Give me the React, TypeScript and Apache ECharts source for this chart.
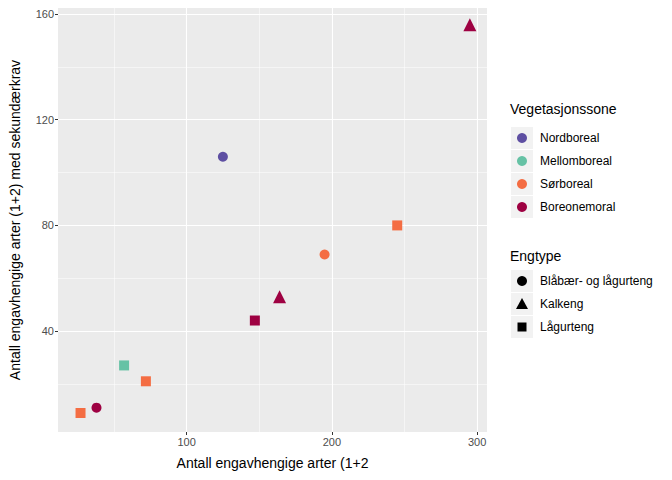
import React, { useEffect, useRef } from "react";
import * as echarts from "echarts";

const zones = ["Nordboreal", "Mellomboreal", "Sørboreal", "Boreonemoral"];
const zoneColors = ["#5E4FA2", "#66C2A5", "#F46D43", "#9E0142"];
const types = ["Blåbær- og lågurteng", "Kalkeng", "Lågurteng"];
const typeSymbols = ["circle", "triangle", "rect"];
// [x, y, zoneIndex, typeIndex]
const points: number[][] = [
  [125, 106, 0, 0],
  [57, 27, 1, 2],
  [245, 80, 2, 2],
  [195, 69, 2, 0],
  [72, 21, 2, 2],
  [27, 9, 2, 2],
  [295, 156, 3, 1],
  [164, 53, 3, 1],
  [147, 44, 3, 2],
  [38, 11, 3, 0],
];
const xTicks = [100, 200, 300];
const yTicks = [40, 80, 120, 160];
const xMinor = [50, 150, 250];
const yMinor = [20, 60, 100, 140];

export default function App() {
  const ref = useRef<HTMLDivElement>(null);
  useEffect(() => {
    document.body.style.margin = "0";
    const chart = echarts.init(ref.current!, null, { renderer: "svg" });
    const font = "Liberation Sans, Arial, sans-serif";
    const series: any[] = [];
    zones.forEach((z, zi) =>
      types.forEach((t, ti) => {
        const d = points.filter((p) => p[2] === zi && p[3] === ti).map((p) => [p[0], p[1]]);
        if (!d.length) return;
        series.push({
          type: "scatter",
          data: d,
          symbol: typeSymbols[ti],
          symbolSize: ti === 1 ? 13 : 10,
          itemStyle: { color: zoneColors[zi], opacity: 1 },
          z: 5,
        });
      })
    );
    const ml = (v: number, axis: "xAxis" | "yAxis", w: number) => ({ [axis]: v, lineStyle: { color: "#fff", width: w, type: "solid" } });
    series.push({
      type: "scatter",
      data: [],
      silent: true,
      z: 1,
      markLine: {
        silent: true,
        symbol: "none",
        label: { show: false },
        animation: false,
        data: [
          ...xMinor.map((v) => ml(v, "xAxis", 0.5)),
          ...yMinor.map((v) => ml(v, "yAxis", 0.5)),
          ...xTicks.map((v) => ml(v, "xAxis", 1.1)),
          ...yTicks.map((v) => ml(v, "yAxis", 1.1)),
        ],
      },
    });
    const graphic: any[] = [];
    const lx = 510;
    graphic.push({ type: "text", left: lx, top: 102, style: { text: "Vegetasjonssone", font: `14px ${font}`, fill: "#000" } });
    zones.forEach((z, i) => {
      const cy = 138 + i * 23;
      graphic.push({ type: "rect", shape: { x: lx + 1, y: cy - 11, width: 22, height: 22 }, style: { fill: "#F2F2F2" } });
      graphic.push({ type: "circle", shape: { cx: lx + 12, cy, r: 5 }, style: { fill: zoneColors[i] } });
      graphic.push({ type: "text", x: lx + 30, y: cy, style: { text: z, font: `12px ${font}`, fill: "#000", verticalAlign: "middle" } });
    });
    graphic.push({ type: "text", left: lx, top: 249, style: { text: "Engtype", font: `14px ${font}`, fill: "#000" } });
    types.forEach((t, i) => {
      const cy = 281 + i * 23;
      graphic.push({ type: "rect", shape: { x: lx + 1, y: cy - 11, width: 22, height: 22 }, style: { fill: "#F2F2F2" } });
      if (i === 0) graphic.push({ type: "circle", shape: { cx: lx + 12, cy, r: 5 }, style: { fill: "#000" } });
      if (i === 1) graphic.push({ type: "polygon", shape: { points: [[lx + 12, cy - 6], [lx + 18, cy + 5], [lx + 6, cy + 5]] }, style: { fill: "#000" } });
      if (i === 2) graphic.push({ type: "rect", shape: { x: lx + 7.5, y: cy - 4.5, width: 9, height: 9 }, style: { fill: "#000" } });
      graphic.push({ type: "text", x: lx + 30, y: cy, style: { text: t, font: `12px ${font}`, fill: "#000", verticalAlign: "middle" } });
    });
    chart.setOption({
      animation: false,
      textStyle: { fontFamily: font },
      grid: { left: 50, top: 8, width: 437, height: 424, show: true, backgroundColor: "#EBEBEB", borderWidth: 0 },
      xAxis: {
        type: "value", min: 11.5, max: 306.8,
        name: "Antall engavhengige arter (1+2", nameLocation: "middle", nameGap: 24,
        nameTextStyle: { fontSize: 14, color: "#000" },
        axisLine: { show: false }, splitLine: { show: false },
        axisTick: { show: true, customValues: xTicks, length: 3, lineStyle: { color: "#333" } },
        axisLabel: { customValues: xTicks, color: "#4D4D4D", fontSize: 11, margin: 4 },
      },
      yAxis: {
        type: "value", min: 1.8, max: 162.3,
        name: "Antall engavhengige arter (1+2) med sekundærkrav", nameLocation: "middle", nameGap: 36,
        nameTextStyle: { fontSize: 14, color: "#000" },
        axisLine: { show: false }, splitLine: { show: false },
        axisTick: { show: true, customValues: yTicks, length: 3, lineStyle: { color: "#333" } },
        axisLabel: { customValues: yTicks, color: "#4D4D4D", fontSize: 11, margin: 4 },
      },
      series,
      graphic,
    });
    return () => chart.dispose();
  }, []);
  return <div ref={ref} style={{ width: 672, height: 480 }} />;
}
